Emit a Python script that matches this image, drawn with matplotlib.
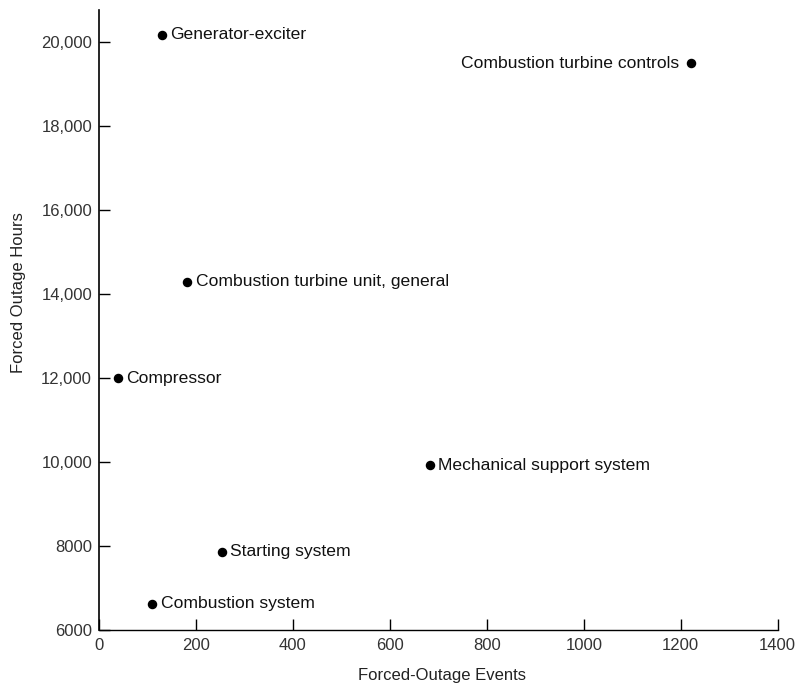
import matplotlib.pyplot as plt

plt.rcParams['font.family'] = ['Liberation Sans', 'DejaVu Sans']

# data
names = ['Generator-exciter', 'Combustion turbine controls',
         'Combustion turbine unit, general', 'Compressor',
         'Mechanical support system', 'Starting system', 'Combustion system']
events = [130, 1222, 182, 39, 683, 253, 110]
hours = [20170, 19500, 14290, 11990, 9920, 7860, 6620]
# which side of the dot the label goes
side = ['r', 'l', 'r', 'r', 'r', 'r', 'r']

xticks = [0, 200, 400, 600, 800, 1000, 1200, 1400]
yticks = [6000, 8000, 10000, 12000, 14000, 16000, 18000, 20000]
ylabels = ['6000', '8000', '10,000', '12,000', '14,000', '16,000', '18,000', '20,000']

fig = plt.figure(figsize=(8.07, 6.83), dpi=100)
ax = fig.add_axes([0.1227, 0.0776, 0.841, 0.9076])

ax.scatter(events, hours, s=34, c='black', zorder=3, clip_on=False)
for n, x, y, s in zip(names, events, hours, side):
    if s == 'r':
        ax.annotate(n, (x, y), xytext=(6, 0), textcoords='offset points',
                    ha='left', va='center', fontsize=12.6, color='#111111')
    else:
        ax.annotate(n, (x, y), xytext=(-9, 0), textcoords='offset points',
                    ha='right', va='center', fontsize=12.6, color='#111111')

ax.set_xlim(0, 1400)
ax.set_ylim(6000, 20760)
ax.set_xticks(xticks)
ax.set_xticklabels([str(t) for t in xticks])
ax.set_yticks(yticks)
ax.set_yticklabels(ylabels)
ax.tick_params(direction='in', length=8, width=1, labelsize=12,
               labelcolor='#333333', pad=5)
ax.tick_params(axis='x', pad=6)

ax.spines['top'].set_visible(False)
ax.spines['right'].set_visible(False)
ax.spines['left'].set_linewidth(1.2)
ax.spines['bottom'].set_linewidth(1.0)

ax.set_xlabel('Forced-Outage Events', fontsize=12, color='#222222')
ax.set_ylabel('Forced Outage Hours', fontsize=12, color='#222222')
ax.xaxis.set_label_coords(0.505, -0.062)
ax.yaxis.set_label_coords(-0.108, 0.545)

fig.savefig('out.png', dpi=100)
